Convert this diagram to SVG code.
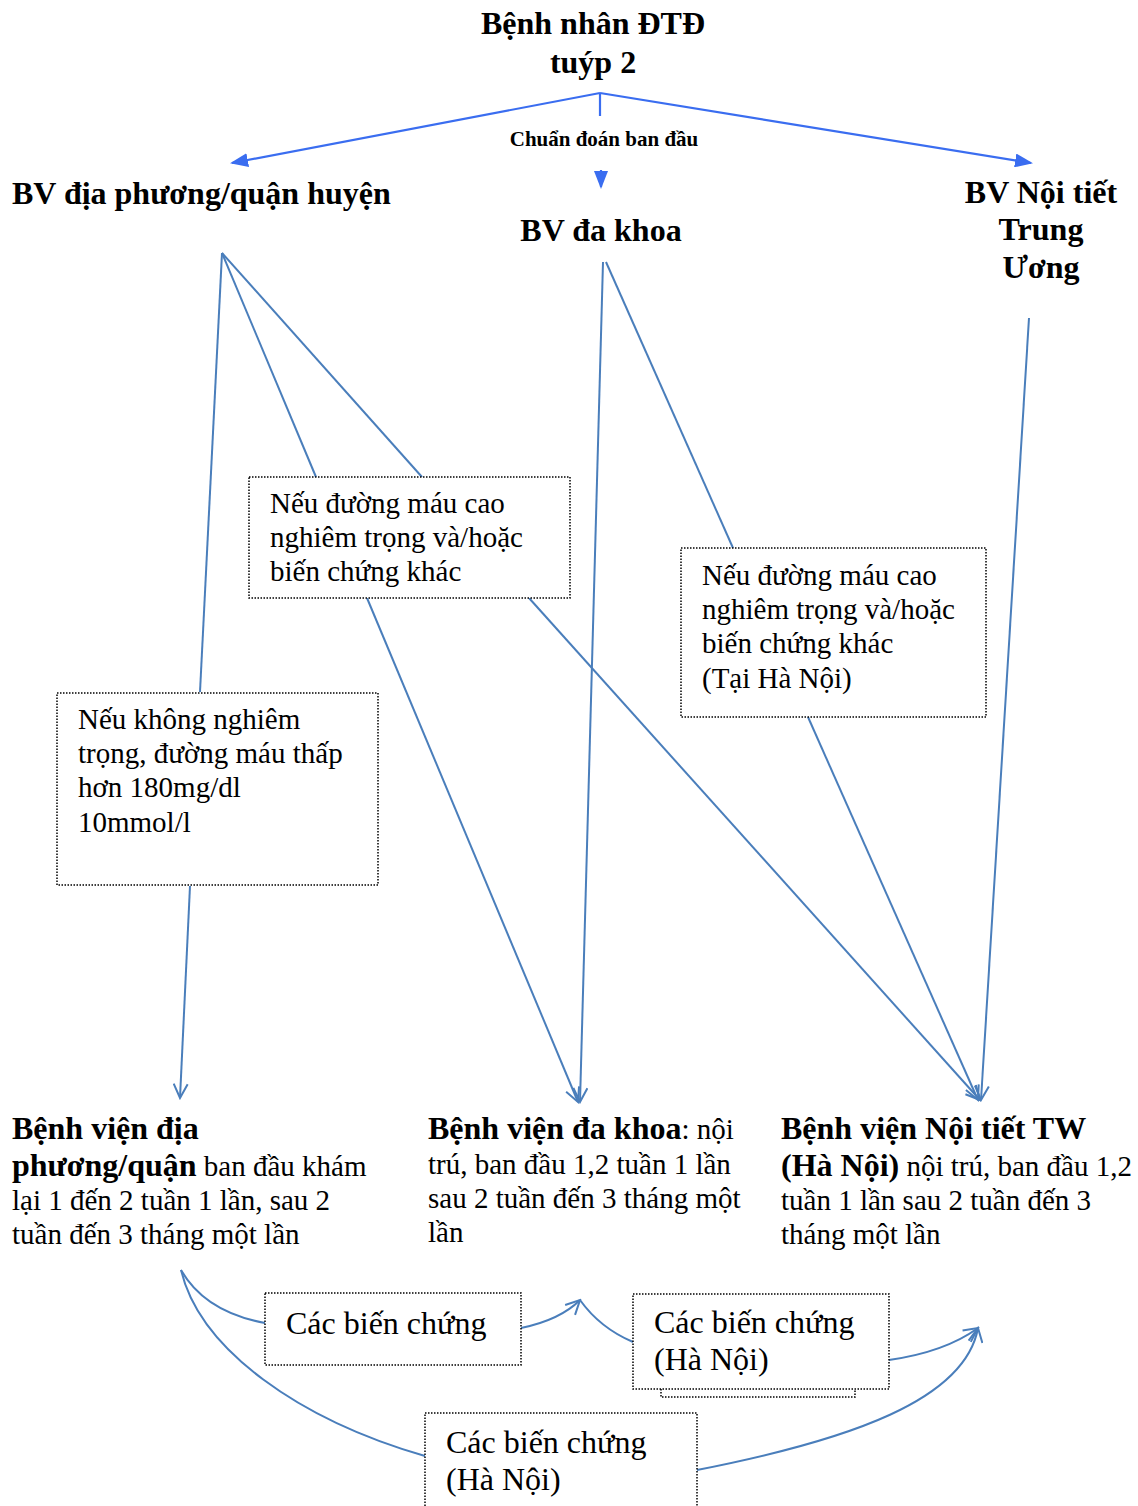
<svg xmlns="http://www.w3.org/2000/svg" width="1138" height="1506" viewBox="0 0 1138 1506">
<style>
text{font-family:"Liberation Serif","Times New Roman",serif;fill:#000}
.h{font-weight:bold;font-size:32px}
.t{font-size:29px}
.b{font-weight:bold}
.big{font-size:32px}
.box{fill:#fff;stroke:#000;stroke-width:1.5;stroke-dasharray:1.5 1.5}
.top{stroke:#3a6df0;stroke-width:2.2;fill:none}
.c{stroke:#4a7ebb;stroke-width:2;fill:none}
.ca{stroke:#4a7ebb;stroke-width:2;fill:none;marker-end:url(#v)}
</style>
<defs>
<marker id="f" markerWidth="18" markerHeight="14" refX="16" refY="7" orient="auto" markerUnits="userSpaceOnUse" viewBox="0 0 18 14">
<path d="M0,0 L18,7 L0,14 z" fill="#3a6df0"/>
</marker>
<marker id="v" markerWidth="18" markerHeight="16" refX="16" refY="8" orient="auto" markerUnits="userSpaceOnUse" viewBox="0 0 18 16">
<path d="M2,1 L16,8 L2,15" fill="none" stroke="#4a7ebb" stroke-width="2"/>
</marker>
</defs>

<g id="connectors">
<path class="top" d="M600,93 L232,163" marker-end="url(#f)"/>
<path class="top" d="M600,93 L1031,163" marker-end="url(#f)"/>
<path class="top" d="M600,93 L600,116"/>
<path class="top" d="M601,170 L601,187" marker-end="url(#f)"/>
<path class="c" d="M222,253 L200,692"/>
<path class="ca" d="M190,886 L180,1098"/>
<path class="c" d="M222,253 L316,477"/>
<path class="ca" d="M367,598 L578,1102"/>
<path class="c" d="M222,253 L422,477"/>
<path class="ca" d="M529,598 L980,1100"/>
<path class="ca" d="M603,262 L580,1102"/>
<path class="c" d="M606,262 L733,548"/>
<path class="ca" d="M808,717 L978,1100"/>
<path class="ca" d="M1029,318 L981,1100"/>
<path class="c" d="M181,1270 Q205,1312 265,1323"/>
<path class="c" d="M181,1270 C200,1350 300,1420 425,1456"/>
<path class="ca" d="M521,1328 Q560,1320 580,1300"/>
<path class="c" d="M580,1300 Q600,1328 633,1342"/>
<path class="ca" d="M889,1360 Q945,1352 978,1328"/>
<path class="ca" d="M697,1470 C850,1440 965,1400 978,1328"/>
</g>

<g id="n-root">
<text class="h" x="593" y="34" text-anchor="middle">Bệnh nhân ĐTĐ</text>
<text class="h" x="593" y="73" text-anchor="middle">tuýp 2</text>
</g>
<g id="label-chuandoan">
<text class="b" x="604" y="146" text-anchor="middle" font-size="21">Chuẩn đoán ban đầu</text>
</g>
<g id="n-bvdp">
<text class="h" x="12" y="204">BV địa phương/quận huyện</text>
</g>
<g id="n-bvdk">
<text class="h" x="601" y="241" text-anchor="middle">BV đa khoa</text>
</g>
<g id="n-bvnt">
<text class="h" x="1041" y="203" text-anchor="middle">BV Nội tiết</text>
<text class="h" x="1041" y="240" text-anchor="middle">Trung</text>
<text class="h" x="1041" y="278" text-anchor="middle">Ương</text>
</g>

<g id="box1">
<rect class="box" x="249" y="477" width="321" height="121"/>
<text class="t" x="270" y="513">Nếu đường máu cao</text>
<text class="t" x="270" y="547">nghiêm trọng và/hoặc</text>
<text class="t" x="270" y="581">biến chứng khác</text>
</g>
<g id="box2">
<rect class="box" x="681" y="548" width="305" height="169"/>
<text class="t" x="702" y="585">Nếu đường máu cao</text>
<text class="t" x="702" y="619">nghiêm trọng và/hoặc</text>
<text class="t" x="702" y="653">biến chứng khác</text>
<text class="t" x="702" y="688">(Tại Hà Nội)</text>
</g>
<g id="box3">
<rect class="box" x="57" y="693" width="321" height="192"/>
<text class="t" x="78" y="729">Nếu không nghiêm</text>
<text class="t" x="78" y="763">trọng, đường máu thấp</text>
<text class="t" x="78" y="797">hơn 180mg/dl</text>
<text class="t" x="78" y="832">10mmol/l</text>
</g>

<g id="n-bvdp2">
<text class="t" x="12" y="1139"><tspan class="b" font-size="32">Bệnh viện địa</tspan></text>
<text class="t" x="12" y="1176"><tspan class="b" font-size="32">phương/quận</tspan> ban đầu khám</text>
<text class="t" x="12" y="1210">lại 1 đến 2 tuần 1 lần, sau 2</text>
<text class="t" x="12" y="1244">tuần đến 3 tháng một lần</text>
</g>
<g id="n-bvdk2">
<text class="t" x="428" y="1139"><tspan class="b" font-size="32">Bệnh viện đa khoa</tspan>: nội</text>
<text class="t" x="428" y="1174">trú, ban đầu 1,2 tuần 1 lần</text>
<text class="t" x="428" y="1208">sau 2 tuần đến 3 tháng một</text>
<text class="t" x="428" y="1242">lần</text>
</g>
<g id="n-bvnt2">
<text class="t" x="781" y="1139"><tspan class="b" font-size="32">Bệnh viện Nội tiết TW</tspan></text>
<text class="t" x="781" y="1176"><tspan class="b" font-size="32">(Hà Nội)</tspan> nội trú, ban đầu 1,2</text>
<text class="t" x="781" y="1210">tuần 1 lần sau 2 tuần đến 3</text>
<text class="t" x="781" y="1244">tháng một lần</text>
</g>

<g id="box4">
<rect class="box" x="265" y="1293" width="256" height="72"/>
<text class="big" x="286" y="1334">Các biến chứng</text>
</g>
<g id="box5">
<path class="box" d="M661,1389 L661,1397 L855,1397 L855,1389"/>
<rect class="box" x="633" y="1294" width="256" height="95"/>
<text class="big" x="654" y="1333">Các biến chứng</text>
<text class="big" x="654" y="1370">(Hà Nội)</text>
</g>
<g id="box6">
<rect class="box" x="425" y="1413" width="272" height="100"/>
<text class="big" x="446" y="1453">Các biến chứng</text>
<text class="big" x="446" y="1490">(Hà Nội)</text>
</g>
</svg>
